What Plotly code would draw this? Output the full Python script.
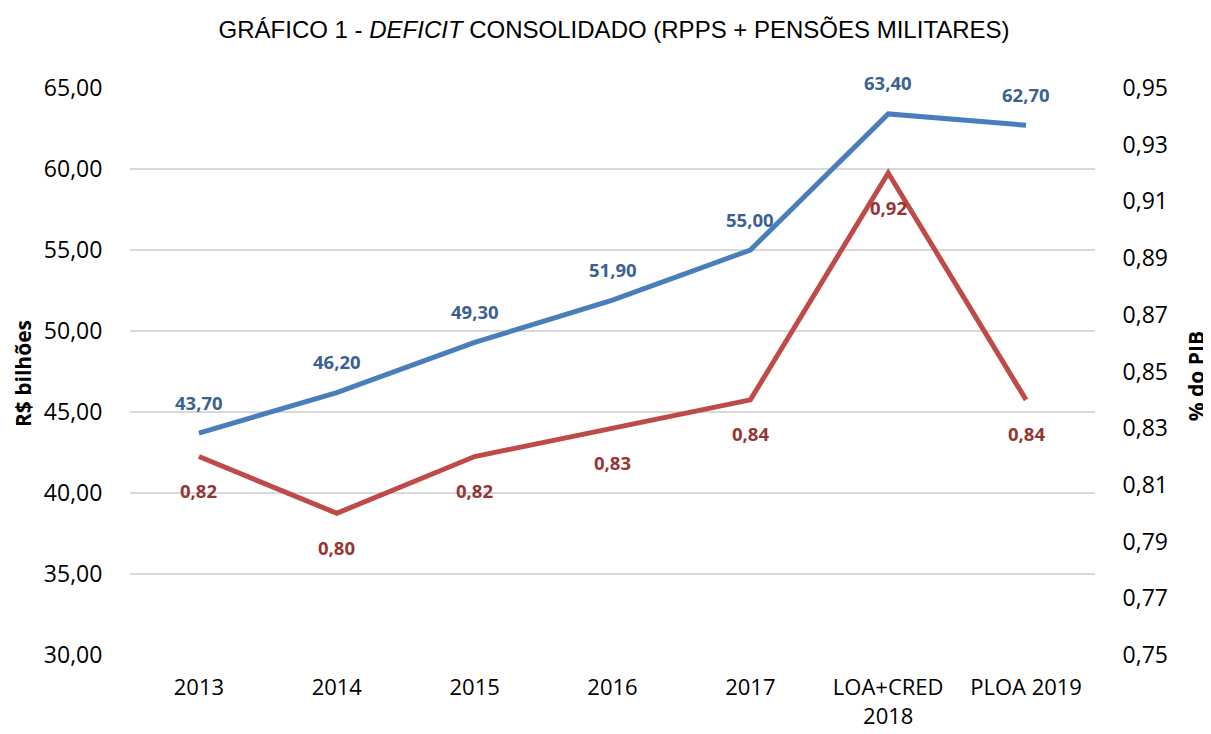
import plotly.graph_objects as go

categories = ["2013", "2014", "2015", "2016", "2017", "LOA+CRED<br>2018", "PLOA 2019"]
deficit_bilhoes = [43.70, 46.20, 49.30, 51.90, 55.00, 63.40, 62.70]
deficit_pib = [0.82, 0.80, 0.82, 0.83, 0.84, 0.92, 0.84]
left_ticks = [30, 35, 40, 45, 50, 55, 60, 65]
right_ticks = [0.75, 0.77, 0.79, 0.81, 0.83, 0.85, 0.87, 0.89, 0.91, 0.93, 0.95]

BLUE = "#4A7EBB"
BLUE_TXT = "#3B6193"
RED = "#BE4B48"
RED_TXT = "#963634"
FONT = "Open Sans, Lato, sans-serif"

fig = go.Figure()
fig.add_trace(go.Scatter(x=categories, y=deficit_pib, mode="lines",
                         line=dict(color=RED, width=5), yaxis="y2", showlegend=False))
fig.add_trace(go.Scatter(x=categories, y=deficit_bilhoes, mode="lines",
                         line=dict(color=BLUE, width=5), yaxis="y", showlegend=False))

for i, v in enumerate(deficit_bilhoes):
    fig.add_annotation(x=i, y=v, xref="x", yref="y", text=f"{v:.2f}".replace(".", ","),
                       showarrow=False, yshift=31,
                       font=dict(family=FONT, size=18.5, color=BLUE_TXT, weight="bold"))
for i, v in enumerate(deficit_pib):
    fig.add_annotation(x=i, y=v, xref="x", yref="y2", text=f"{v:.2f}".replace(".", ","),
                       showarrow=False, yshift=-34,
                       font=dict(family=FONT, size=18.5, color=RED_TXT, weight="bold"))

fig.add_annotation(text="<b>R$ bilhões</b>", xref="paper", yref="paper", x=-0.111, y=0.497,
                   xanchor="center", yanchor="middle", textangle=-90, showarrow=False,
                   font=dict(family=FONT, size=21, color="#000000"))
fig.add_annotation(text="<b>% do PIB</b>", xref="paper", yref="paper", x=1.105, y=0.492,
                   xanchor="center", yanchor="middle", textangle=-90, showarrow=False,
                   font=dict(family=FONT, size=21, color="#000000"))

fig.update_layout(
    width=1211, height=734,
    margin=dict(l=122, r=124, t=80, b=85),
    paper_bgcolor="white", plot_bgcolor="white",
    separators=",.",
    title=dict(text="GRÁFICO 1 - <i>DEFICIT</i> CONSOLIDADO (RPPS + PENSÕES MILITARES)",
               x=0.5005, xanchor="center", y=0.970, yanchor="middle",
               font=dict(family="Liberation Sans Narrow, Arial Narrow, Liberation Sans, sans-serif",
                         size=24, color="#000000")),
    xaxis=dict(type="category", range=[-0.5, 6.5], showgrid=False, showline=False,
               ticks="outside", ticklen=13, tickcolor="rgba(0,0,0,0)",
               tickfont=dict(family=FONT, size=22, color="#000000")),
    yaxis=dict(range=[30, 65], tickvals=left_ticks, tickformat=".2f",
               showgrid=True, gridcolor="#D9D9D9", gridwidth=2, zeroline=False,
               ticks="outside", ticklen=22, tickcolor="rgba(0,0,0,0)",
               tickfont=dict(family=FONT, size=23, color="#000000")),
    yaxis2=dict(range=[0.75, 0.95], tickvals=right_ticks, tickformat=".2f",
                overlaying="y", side="right", showgrid=False, zeroline=False,
                ticks="outside", ticklen=22, tickcolor="rgba(0,0,0,0)",
                tickfont=dict(family=FONT, size=23, color="#000000")),
)

fig.write_html("out.html")
